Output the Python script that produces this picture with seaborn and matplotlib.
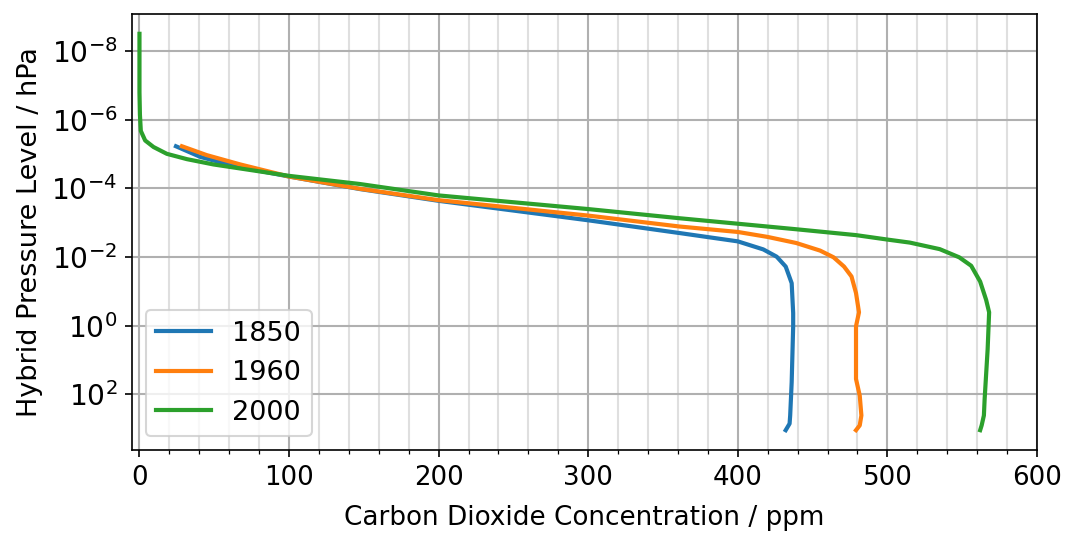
import numpy as np
import pandas as pd
import matplotlib
matplotlib.use("Agg")
import matplotlib.pyplot as plt
from matplotlib.ticker import MultipleLocator, NullLocator
import seaborn as sns

# CO2 profiles (ppm) on hybrid pressure levels (hPa)
co2_1850 = [24.4, 40.6, 63.0, 100.0, 147.7, 200.0, 300.0, 361.0, 400.0, 417.0,
            426.0, 432.0, 436.0, 437.0, 437.0, 436.0, 435.0, 434.6, 432.0]
lev_1850 = [5.9e-6, 1.2e-5, 2.2e-5, 4.5e-5, 1.05e-4, 2.3e-4, 8.5e-4, 2.0e-3, 3.5e-3, 6.0e-3,
            9.8e-3, 0.019, 0.058, 0.43, 1.05, 45.0, 417.0, 724.0, 1122.0]

co2_1960 = [28.4, 45.0, 67.4, 100.0, 147.0, 200.0, 300.0, 361.0, 400.0, 420.0,
            439.0, 455.0, 464.0, 471.0, 476.0, 479.0, 481.0, 479.0, 479.0, 481.5,
            482.6, 481.5, 479.0]
lev_1960 = [5.9e-6, 1.07e-5, 2.0e-5, 4.5e-5, 1.02e-4, 2.2e-4, 6.2e-4, 1.29e-3, 1.86e-3, 2.6e-3,
            3.9e-3, 6.5e-3, 0.0102, 0.019, 0.037, 0.112, 0.41, 1.05, 36.0, 110.0,
            417.0, 813.0, 1122.0]

co2_2000 = [0.0, 0.0, 0.3, 0.9, 3.8, 9.4, 18.3, 31.7, 49.5, 76.3,
            100.0, 147.0, 200.0, 300.0, 361.0, 400.0, 439.0, 479.0, 500.0, 515.0,
            535.0, 548.0, 556.0, 562.0, 566.0, 568.0, 567.0, 565.0, 564.5, 563.0,
            562.0]
lev_2000 = [3.1e-9, 1.6e-7, 7.1e-7, 2.1e-6, 4.0e-6, 6.2e-6, 9.8e-6, 1.4e-5, 2.0e-5, 3.0e-5,
            4.3e-5, 7.4e-5, 1.6e-4, 4.0e-4, 7.4e-4, 1.07e-3, 1.55e-3, 2.3e-3, 3.1e-3, 3.8e-3,
            5.9e-3, 0.0102, 0.018, 0.052, 0.178, 0.41, 4.9, 138.0, 417.0, 813.0,
            1122.0]

years = ["1850", "1960", "2000"]

frames = []
for yr, c, p in zip(years, [co2_1850, co2_1960, co2_2000], [lev_1850, lev_1960, lev_2000]):
    frames.append(pd.DataFrame({"co2": c, "lev": p, "year": yr}))
df = pd.concat(frames, ignore_index=True)

plt.rcParams["font.family"] = ["DejaVu Sans"]
plt.rcParams["font.size"] = 12.5

fig = plt.figure(figsize=(1069 / 150, 534 / 150), dpi=150)
ax = fig.add_axes([132 / 1069, 1 - 450 / 534, (1037 - 132) / 1069, (450 - 14) / 534])

sns.lineplot(data=df, x="co2", y="lev", hue="year", sort=False, estimator=None,
             palette=["#1f77b4", "#ff7f0e", "#2ca02c"], linewidth=2, ax=ax)

ax.set_yscale("log")
ax.invert_yaxis()
ax.set_xlim(-5, 600)
ax.xaxis.set_minor_locator(MultipleLocator(20))
ax.yaxis.set_minor_locator(NullLocator())
ax.tick_params(axis="y", labelsize=13.5)
ax.grid(which="major", color="#b0b0b0", linewidth=1.0)
ax.grid(which="minor", axis="x", color="#b0b0b0", alpha=0.4, linewidth=1.0)
ax.set_axisbelow(True)

ax.set_xlabel("Carbon Dioxide Concentration / ppm", fontsize=12.6, labelpad=7)
ax.set_ylabel("Hybrid Pressure Level / hPa", fontsize=13)
ax.legend(title=None, loc="lower left", fontsize=13)

fig.savefig("out.png", dpi=150)
